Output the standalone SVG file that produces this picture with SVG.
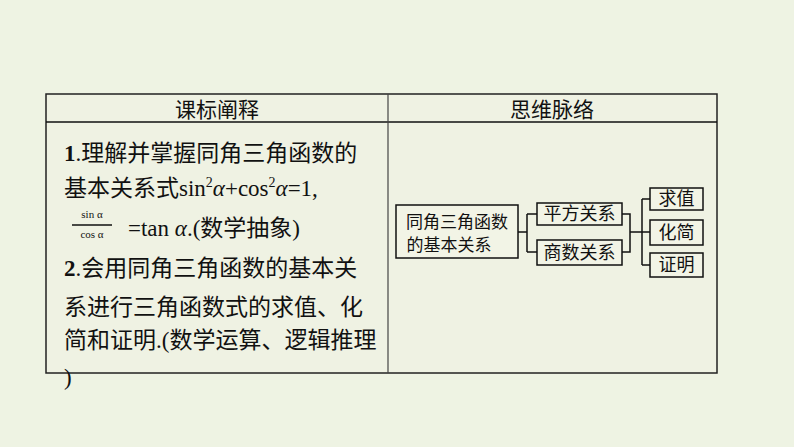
<svg xmlns="http://www.w3.org/2000/svg" width="794" height="447" viewBox="0 0 794 447">
<style>
.t{font-family:"Liberation Serif","Noto Sans CJK SC",serif;font-size:23px;fill:#111}
.f{font-family:"Liberation Serif",serif;font-size:11px;fill:#111;text-anchor:middle}
.h{font-family:"Noto Sans CJK SC",sans-serif;font-size:21px;fill:#111;text-anchor:middle}
.n{font-family:"Noto Sans CJK SC",sans-serif;font-size:18px;fill:#111;text-anchor:middle}
.b{fill:#f2f4e6;stroke:#111;stroke-width:1.5}
.c{fill:none;stroke:#111;stroke-width:1.5}
</style>
<rect width="794" height="447" fill="#eef3e3"/>
<g id="table">
<rect x="46" y="94" width="671" height="279" fill="#eff2e3" stroke="#222" stroke-width="1.5"/>
<line x1="46" y1="122" x2="717" y2="122" stroke="#111" stroke-width="1.5"/>
<line x1="388" y1="94" x2="388" y2="373" stroke="#444" stroke-width="1.2"/>
<text class="h" x="217" y="117">课标阐释</text>
<text class="h" x="552" y="117">思维脉络</text>
</g>
<g id="text">
<text class="t" x="64" y="161"><tspan font-weight="bold">1</tspan>.理解并掌握同角三角函数的</text>
<text class="t" x="64" y="196">基本关系式sin<tspan font-size="14" dy="-9">2</tspan><tspan dy="9" font-style="italic">α</tspan>+cos<tspan font-size="14" dy="-9">2</tspan><tspan dy="9" font-style="italic">α</tspan>=1,</text>
<text class="f" x="92" y="218">sin α</text>
<line x1="72" y1="225" x2="112" y2="225" stroke="#111" stroke-width="1.5"/>
<text class="f" x="92" y="238">cos α</text>
<text class="t" x="128" y="236">=tan <tspan font-style="italic">α</tspan>.(数学抽象)</text>
<text class="t" x="64" y="276"><tspan font-weight="bold">2</tspan>.会用同角三角函数的基本关</text>
<text class="t" x="64" y="315">系进行三角函数式的求值、化</text>
<text class="t" x="64" y="348">简和证明.(数学运算、逻辑推理</text>
<text class="t" x="64" y="385">)</text>
</g>
<g id="connectors">
<path class="c" d="M518 232H527M527 214V252M527 214H537M527 252H537"/>
<path class="c" d="M622 214H630V252H622M630 232H642M642 199V265M642 199H650M642 232H650M642 265H650"/>
</g>
<g id="nA"><rect class="b" x="396" y="205" width="122" height="53"/><text class="n" x="457" y="228" style="font-size:17px">同角三角函数</text><text class="n" x="449" y="251" style="font-size:17px">的基本关系</text></g>
<g id="nB"><rect class="b" x="537" y="203" width="85" height="22"/><text class="n" x="579.5" y="220">平方关系</text></g>
<g id="nC"><rect class="b" x="537" y="240" width="85" height="25"/><text class="n" x="579.5" y="259">商数关系</text></g>
<g id="n1"><rect class="b" x="650" y="188" width="53" height="22"/><text class="n" x="676.5" y="205">求值</text></g>
<g id="n2"><rect class="b" x="650" y="220" width="53" height="25"/><text class="n" x="676.5" y="239">化简</text></g>
<g id="n3"><rect class="b" x="650" y="253" width="53" height="24"/><text class="n" x="676.5" y="271">证明</text></g>
</svg>
